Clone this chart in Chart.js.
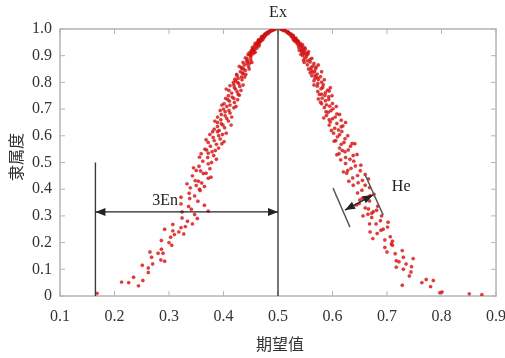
<!DOCTYPE html>
<html>
<head>
<meta charset="utf-8">
<script src="https://cdn.jsdelivr.net/npm/chart.js@4.4.0/dist/chart.umd.min.js"></script>
<style>
html, body { margin: 0; padding: 0; background: #fff; }
#wrap { width: 505px; height: 358px; }
</style>
</head>
<body>
<div id="wrap"><canvas id="c" width="505" height="358"></canvas></div>
<script>
// tick labels
const xTickLabels = ['0.1', '0.2', '0.3', '0.4', '0.5', '0.6', '0.7', '0.8', '0.9'];
const yTickLabels = ['0', '0.1', '0.2', '0.3', '0.4', '0.5', '0.6', '0.7', '0.8', '0.9', '1.0'];

// cloud drops [期望值, 隶属度]
const leftDrops = [
    [0.495,0.999],[0.492,0.998],[0.492,0.997],[0.490,0.996],[0.488,0.995],[0.487,0.994],[0.488,0.993],[0.485,0.991],
    [0.483,0.990],[0.484,0.988],[0.480,0.987],[0.480,0.985],[0.482,0.983],[0.477,0.982],[0.479,0.980],[0.475,0.979],
    [0.476,0.978],[0.477,0.976],[0.475,0.975],[0.474,0.973],[0.470,0.972],[0.475,0.970],[0.471,0.969],[0.471,0.968],
    [0.473,0.966],[0.471,0.965],[0.470,0.963],[0.467,0.962],[0.472,0.960],[0.464,0.959],[0.468,0.958],[0.469,0.956],
    [0.464,0.955],[0.464,0.953],[0.467,0.952],[0.466,0.951],[0.464,0.950],
    [0.461,0.948],[0.458,0.946],[0.465,0.945],[0.461,0.942],[0.465,0.940],[0.457,0.937],[0.465,0.936],[0.460,0.934],
    [0.453,0.931],[0.461,0.928],[0.455,0.925],[0.454,0.924],[0.457,0.922],[0.452,0.920],[0.451,0.919],[0.454,0.916],
    [0.458,0.913],[0.456,0.912],[0.450,0.910],[0.447,0.910],[0.454,0.907],[0.445,0.904],[0.449,0.903],[0.450,0.901],
    [0.450,0.895],[0.440,0.892],[0.443,0.890],[0.450,0.885],[0.443,0.880],[0.444,0.880],[0.436,0.875],[0.452,0.875],
    [0.448,0.872],[0.443,0.870],[0.438,0.865],[0.446,0.860],[0.429,0.860],[0.433,0.855],[0.434,0.852],[0.437,0.850],
    [0.447,0.850],[0.440,0.845],[0.431,0.840],[0.435,0.835],[0.436,0.832],[0.441,0.830],[0.424,0.830],[0.425,0.825],
    [0.433,0.820],[0.439,0.820],[0.427,0.815],[0.421,0.812],[0.434,0.810],[0.422,0.805],[0.426,0.800],[0.418,0.800],
    [0.428,0.795],[0.419,0.790],[0.436,0.790],[0.412,0.788],[0.430,0.785],[0.420,0.780],[0.422,0.775],[0.405,0.775],
    [0.410,0.770],[0.432,0.770],[0.425,0.765],[0.415,0.760],[0.427,0.755],[0.429,0.752],[0.409,0.750],[0.416,0.745],
    [0.419,0.740],[0.404,0.740],[0.408,0.735],[0.426,0.735],[0.411,0.730],[0.420,0.725],[0.401,0.720],[0.412,0.715],
    [0.397,0.715],[0.406,0.710],[0.423,0.710],[0.419,0.705],[0.400,0.700],
    [0.410,0.695],[0.394,0.695],[0.403,0.690],[0.412,0.685],[0.396,0.680],[0.403,0.675],[0.389,0.670],[0.415,0.670],
    [0.406,0.665],[0.395,0.660],[0.409,0.655],[0.384,0.655],[0.389,0.650],[0.396,0.645],[0.399,0.640],[0.414,0.640],
    [0.389,0.635],[0.402,0.630],[0.383,0.625],[0.392,0.620],[0.389,0.615],[0.380,0.615],[0.405,0.610],[0.375,0.605],
    [0.398,0.605],[0.391,0.600],
    [0.381,0.594],[0.394,0.588],[0.368,0.585],[0.383,0.582],[0.401,0.578],[0.372,0.575],[0.397,0.570],[0.387,0.568],
    [0.376,0.561],[0.391,0.554],[0.366,0.550],[0.369,0.547],[0.385,0.545],[0.379,0.540],[0.372,0.535],[0.359,0.533],
    [0.382,0.526],[0.356,0.520],[0.371,0.519],[0.387,0.512],[0.362,0.505],[0.378,0.500],
    [0.372,0.495],[0.355,0.486],[0.345,0.480],[0.375,0.477],[0.350,0.470],[0.358,0.468],[0.368,0.460],[0.363,0.459],
    [0.343,0.450],[0.377,0.445],[0.372,0.441],[0.348,0.432],[0.354,0.430],[0.360,0.423],[0.333,0.420],[0.350,0.414],
    [0.365,0.410],[0.339,0.405],[0.356,0.400],
    [0.357,0.395],[0.337,0.385],[0.347,0.375],[0.322,0.370],[0.338,0.365],[0.353,0.355],[0.322,0.345],[0.365,0.340],
    [0.336,0.335],[0.341,0.325],[0.372,0.318],[0.324,0.315],[0.347,0.305],
    [0.324,0.292],[0.352,0.290],[0.334,0.280],[0.343,0.270],[0.307,0.268],[0.330,0.260],[0.322,0.256],[0.292,0.250],
    [0.307,0.244],[0.318,0.240],[0.327,0.232],[0.310,0.230],[0.303,0.220],[0.286,0.208],[0.300,0.200],
    [0.305,0.190],[0.286,0.175],[0.265,0.165],[0.289,0.160],[0.280,0.160],[0.268,0.145],[0.285,0.135],[0.292,0.130],
    [0.270,0.120],[0.251,0.115],[0.262,0.105],
    [0.262,0.088],[0.235,0.070],[0.252,0.058],[0.213,0.052],[0.226,0.050],[0.244,0.038],[0.168,0.010]
];

const rightDrops = [
    [0.505,0.999],[0.507,0.998],[0.509,0.997],[0.511,0.996],[0.510,0.995],[0.511,0.994],[0.514,0.993],[0.515,0.991],
    [0.518,0.989],[0.519,0.988],[0.517,0.986],[0.520,0.984],[0.520,0.983],[0.524,0.981],[0.522,0.979],[0.524,0.977],
    [0.528,0.976],[0.527,0.974],[0.525,0.971],[0.527,0.970],[0.529,0.968],[0.533,0.966],[0.530,0.964],[0.532,0.962],
    [0.528,0.961],[0.534,0.959],[0.531,0.957],[0.530,0.956],[0.537,0.955],[0.535,0.953],[0.537,0.952],[0.533,0.951],
    [0.536,0.949],[0.541,0.946],[0.536,0.943],[0.545,0.941],[0.541,0.940],[0.539,0.937],[0.544,0.934],[0.538,0.931],
    [0.549,0.930],[0.544,0.928],[0.550,0.925],[0.543,0.922],[0.539,0.920],[0.548,0.919],[0.543,0.916],[0.556,0.915],
    [0.547,0.913],[0.553,0.910],[0.547,0.907],[0.555,0.906],[0.542,0.905],[0.552,0.904],[0.545,0.901],
    [0.552,0.896],[0.549,0.891],[0.562,0.890],[0.559,0.886],[0.547,0.883],[0.554,0.881],[0.559,0.876],[0.548,0.875],
    [0.566,0.871],[0.554,0.866],[0.574,0.865],[0.564,0.861],[0.570,0.858],[0.561,0.856],[0.569,0.851],[0.556,0.850],
    [0.561,0.846],[0.567,0.841],[0.580,0.840],[0.564,0.838],[0.559,0.836],[0.572,0.831],[0.568,0.826],[0.562,0.825],
    [0.578,0.821],[0.572,0.818],[0.568,0.816],[0.574,0.811],[0.585,0.810],[0.566,0.806],[0.580,0.801],
    [0.573,0.796],[0.583,0.791],[0.566,0.790],[0.572,0.786],[0.582,0.781],[0.596,0.780],[0.579,0.776],[0.591,0.771],
    [0.594,0.768],[0.573,0.766],[0.587,0.761],[0.580,0.756],[0.576,0.755],[0.586,0.751],[0.599,0.750],[0.593,0.746],
    [0.581,0.741],[0.574,0.738],[0.593,0.736],[0.587,0.731],[0.578,0.726],[0.600,0.721],[0.580,0.720],[0.589,0.716],
    [0.595,0.711],[0.607,0.710],[0.585,0.706],[0.601,0.701],
    [0.597,0.694],[0.588,0.690],[0.592,0.688],[0.608,0.682],[0.613,0.680],[0.589,0.676],[0.605,0.670],[0.584,0.667],
    [0.600,0.664],[0.594,0.660],[0.616,0.658],[0.596,0.652],[0.624,0.650],[0.608,0.646],[0.594,0.640],[0.619,0.637],
    [0.616,0.634],[0.604,0.628],[0.611,0.622],[0.598,0.620],[0.617,0.616],[0.602,0.610],[0.613,0.604],
    [0.628,0.600],[0.609,0.596],[0.623,0.589],[0.606,0.582],[0.603,0.580],[0.621,0.575],[0.636,0.571],[0.641,0.570],
    [0.616,0.568],[0.633,0.561],[0.613,0.554],[0.629,0.547],[0.618,0.545],[0.623,0.540],[0.612,0.533],[0.645,0.530],
    [0.608,0.529],[0.638,0.526],[0.624,0.519],[0.632,0.512],[0.615,0.510],[0.639,0.505],
    [0.624,0.496],[0.652,0.490],[0.642,0.487],[0.634,0.478],[0.628,0.470],[0.651,0.469],[0.620,0.465],[0.626,0.460],
    [0.660,0.455],[0.646,0.451],[0.637,0.442],[0.666,0.438],[0.655,0.433],[0.630,0.430],[0.647,0.424],[0.638,0.415],
    [0.660,0.415],[0.668,0.406],
    [0.654,0.396],[0.646,0.386],[0.676,0.381],[0.669,0.376],[0.655,0.366],[0.650,0.360],[0.668,0.356],[0.649,0.346],
    [0.644,0.341],[0.683,0.336],[0.660,0.330],[0.666,0.326],[0.681,0.321],[0.675,0.316],[0.672,0.310],[0.665,0.306],
    [0.656,0.300],[0.690,0.300],
    [0.672,0.294],[0.688,0.282],[0.702,0.276],[0.668,0.270],[0.680,0.270],[0.701,0.258],[0.693,0.250],[0.689,0.246],
    [0.669,0.240],[0.682,0.234],[0.706,0.222],[0.674,0.215],[0.696,0.210],[0.710,0.205],
    [0.708,0.195],[0.710,0.190],[0.696,0.182],[0.728,0.170],[0.700,0.165],[0.715,0.158],[0.730,0.145],[0.748,0.140],
    [0.717,0.132],[0.722,0.128],[0.735,0.120],[0.745,0.110],[0.717,0.108],[0.730,0.100],
    [0.744,0.090],[0.741,0.075],[0.772,0.062],[0.785,0.058],[0.764,0.050],[0.728,0.040],[0.780,0.035],[0.797,0.012],
    [0.801,0.015],[0.851,0.008],[0.874,0.005]
];

// annotation positions (data units)
const exValue = 0.5;
const threeEnLeft = 0.165;
const threeEnY = 0.315;
const heLineA = [[0.601, 0.404], [0.632, 0.258]];
const heLineB = [[0.660, 0.453], [0.693, 0.303]];
const heArrow = [[0.623, 0.322], [0.674, 0.378]];

const serif = "'Liberation Serif', 'DejaVu Serif', serif";
const cjk = "'Noto Sans CJK SC', sans-serif";

function head(ctx, x, y, ang) {
    ctx.save();
    ctx.translate(x, y);
    ctx.rotate(ang);
    ctx.beginPath();
    ctx.moveTo(0, 0);
    ctx.lineTo(-10, -4);
    ctx.lineTo(-10, 4);
    ctx.closePath();
    ctx.fill();
    ctx.restore();
}

function arrow2(ctx, x1, y1, x2, y2) {
    ctx.beginPath();
    ctx.moveTo(x1, y1);
    ctx.lineTo(x2, y2);
    ctx.stroke();
    const ang = Math.atan2(y2 - y1, x2 - x1);
    head(ctx, x2, y2, ang);
    head(ctx, x1, y1, ang + Math.PI);
}

const cloudNotes = {
    id: 'cloudNotes',
    beforeDatasetsDraw(chart) {
        const {ctx, chartArea: a, scales: {x, y}} = chart;
        ctx.save();
        ctx.strokeStyle = '#b4b4b4';
        ctx.lineWidth = 1.5;
        ctx.strokeRect(a.left, a.top, a.right - a.left, a.bottom - a.top);
        ctx.lineWidth = 1;
        // inward ticks on all four sides
        xTickLabels.forEach((t, i) => {
            const px = x.getPixelForValue(0.1 + i * 0.1);
            ctx.beginPath();
            ctx.moveTo(px, a.bottom); ctx.lineTo(px, a.bottom - 5);
            ctx.moveTo(px, a.top); ctx.lineTo(px, a.top + 5);
            ctx.stroke();
        });
        yTickLabels.forEach((t, i) => {
            const py = y.getPixelForValue(i * 0.1);
            ctx.beginPath();
            ctx.moveTo(a.left, py); ctx.lineTo(a.left + 5, py);
            ctx.moveTo(a.right, py); ctx.lineTo(a.right - 5, py);
            ctx.stroke();
        });
        ctx.restore();
    },
    afterDatasetsDraw(chart) {
        const {ctx, scales: {x, y}} = chart;
        const P = (p) => [x.getPixelForValue(p[0]), y.getPixelForValue(p[1])];
        ctx.save();
        ctx.strokeStyle = '#3a3a3a';
        ctx.fillStyle = '#222';
        ctx.lineWidth = 1.4;

        // Ex line
        ctx.beginPath();
        ctx.moveTo(x.getPixelForValue(exValue), y.getPixelForValue(0));
        ctx.lineTo(x.getPixelForValue(exValue), y.getPixelForValue(1));
        ctx.stroke();

        // 3En line and arrow
        ctx.beginPath();
        ctx.moveTo(x.getPixelForValue(threeEnLeft), y.getPixelForValue(0));
        ctx.lineTo(x.getPixelForValue(threeEnLeft), y.getPixelForValue(0.5));
        ctx.stroke();
        ctx.strokeStyle = '#222';
        arrow2(ctx, x.getPixelForValue(threeEnLeft), y.getPixelForValue(threeEnY),
            x.getPixelForValue(exValue), y.getPixelForValue(threeEnY));

        // He bracket
        ctx.strokeStyle = '#555';
        [heLineA, heLineB].forEach(l => {
            const a = P(l[0]), b = P(l[1]);
            ctx.beginPath();
            ctx.moveTo(a[0], a[1]);
            ctx.lineTo(b[0], b[1]);
            ctx.stroke();
        });
        ctx.strokeStyle = '#222';
        const h1 = P(heArrow[0]), h2 = P(heArrow[1]);
        arrow2(ctx, h1[0], h1[1], h2[0], h2[1]);

        // labels
        ctx.fillStyle = '#222';
        ctx.font = '16px ' + serif;
        ctx.textAlign = 'center';
        ctx.textBaseline = 'middle';
        ctx.fillText('Ex', x.getPixelForValue(exValue), 13);
        ctx.fillText('3En', x.getPixelForValue(0.293), y.getPixelForValue(0.355));
        ctx.fillText('He', x.getPixelForValue(0.726), y.getPixelForValue(0.41));

        // axis titles
        ctx.font = '16px ' + cjk;
        ctx.fillStyle = '#333';
        ctx.fillText('期望值', 280, 344);
        ctx.translate(16, 157);
        ctx.rotate(-Math.PI / 2);
        ctx.fillText('隶属度', 0, 0);
        ctx.restore();
    }
};

const dropStyle = {
    pointRadius: 1.7,
    pointBackgroundColor: 'rgba(228, 24, 24, 0.85)',
    pointBorderColor: 'rgba(140, 0, 0, 0.35)',
    pointBorderWidth: 0.5,
    showLine: false
};

new Chart(document.getElementById('c'), {
    type: 'scatter',
    data: {
        datasets: [
            Object.assign({data: leftDrops.map(d => ({x: d[0], y: d[1]}))}, dropStyle),
            Object.assign({data: rightDrops.map(d => ({x: d[0], y: d[1]}))}, dropStyle)
        ]
    },
    options: {
        responsive: false,
        animation: false,
        layout: {padding: {top: 29, right: 9, left: 0, bottom: 0}},
        plugins: {legend: {display: false}, tooltip: {enabled: false}},
        scales: {
            x: {
                type: 'linear',
                min: 0.1,
                max: 0.9,
                afterFit: s => { s.height = 62; s.paddingLeft = 0; s.paddingRight = 0; },
                grid: {display: false},
                border: {display: false},
                ticks: {
                    stepSize: 0.1,
                    autoSkip: false,
                    maxRotation: 0,
                    padding: 3,
                    color: '#333',
                    font: {family: serif, size: 16},
                    callback: v => xTickLabels[Math.round((v - 0.1) * 10)]
                }
            },
            y: {
                type: 'linear',
                min: 0,
                max: 1,
                afterFit: s => { s.width = 60; s.paddingTop = 0; s.paddingBottom = 0; },
                grid: {display: false},
                border: {display: false},
                ticks: {
                    stepSize: 0.1,
                    autoSkip: false,
                    padding: 0,
                    color: '#333',
                    font: {family: serif, size: 16},
                    callback: v => yTickLabels[Math.round(v * 10)]
                }
            }
        }
    },
    plugins: [cloudNotes]
});
</script>
</body>
</html>
